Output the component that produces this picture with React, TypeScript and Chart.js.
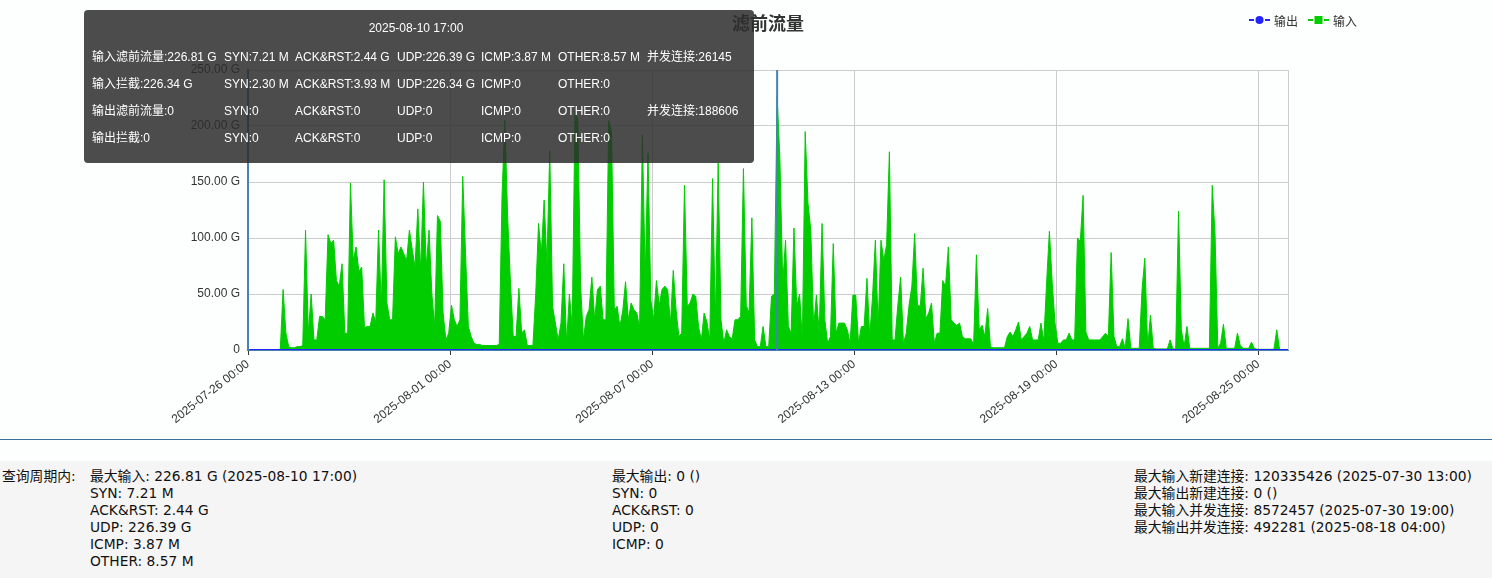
import React, { useEffect, useRef } from 'react';
import { Chart, registerables } from 'chart.js';

Chart.register(...registerables);

// ---- data ----
// one sample every 2 hours, the first at 2025-07-26 01:00 (hour 1 of the range)
const firstSampleHour = 1;
const sampleStepHours = 2;
const axisMaxHour = 741; // 2025-08-25 21:00
const tickStepHours = 144; // 6 days

const tickLabels = [
  '2025-07-26 00:00',
  '2025-08-01 00:00',
  '2025-08-07 00:00',
  '2025-08-13 00:00',
  '2025-08-19 00:00',
  '2025-08-25 00:00',
];

const yTickValues = [0, 50, 100, 150, 200, 250];

const seriesNames = ['输出', '输入'];

// 输入 (G), every 2 hours
const inputValues = [
  0, 0, 0, 0, 0, 0, 0, 0, 0, 0, 0, 0,
  54, 15, 3, 2, 2, 3, 3, 4, 107, 15, 50, 9,
  9, 30, 30, 27, 103, 95, 98, 62, 57, 77, 15, 15,
  149, 80, 92, 70, 74, 20, 21, 21, 33, 25, 107, 39,
  152, 42, 27, 27, 101, 86, 92, 86, 80, 107, 90, 74,
  126, 71, 150, 74, 107, 50, 21, 120, 115, 33, 9, 15,
  40, 27, 21, 27, 155, 86, 21, 12, 6, 5, 5, 4,
  4, 4, 4, 4, 4, 5, 138, 205, 119, 60, 12, 12,
  55, 15, 18, 4, 4, 4, 50, 113, 86, 134, 77, 178,
  39, 24, 9, 24, 77, 6, 50, 21, 214, 205, 57, 9,
  30, 36, 65, 27, 54, 57, 27, 27, 205, 195, 36, 39,
  21, 35, 61, 27, 42, 36, 33, 20, 192, 65, 176, 45,
  27, 62, 40, 54, 57, 54, 24, 71, 36, 12, 15, 147,
  39, 42, 50, 48, 21, 9, 33, 25, 9, 153, 27, 167,
  27, 6, 18, 12, 10, 27, 27, 30, 162, 40, 33, 118,
  9, 3, 3, 21, 3, 3, 48, 50, 226.81, 170, 60, 98,
  21, 15, 109, 39, 50, 9, 195, 131, 107, 21, 49, 15,
  113, 27, 6, 12, 95, 15, 24, 24, 24, 18, 6, 49,
  49, 6, 21, 21, 64, 12, 48, 98, 21, 98, 80, 94,
  177, 9, 9, 40, 65, 6, 15, 40, 57, 104, 40, 39,
  73, 28, 33, 42, 6, 15, 15, 62, 57, 92, 27, 24,
  22, 24, 12, 10, 10, 10, 5, 85, 18, 22, 12, 37,
  3, 2, 2, 2, 2, 2, 12, 16, 12, 18, 25, 9,
  12, 15, 21, 9, 9, 9, 24, 8, 60, 106, 60, 24,
  6, 6, 9, 9, 15, 9, 9, 100, 97, 138, 16, 9,
  9, 9, 9, 9, 12, 15, 12, 87, 12, 3, 3, 10,
  1.5, 28, 1.5, 1.5, 1.5, 1.5, 54, 82, 3, 31, 1.5, 1,
  1, 1, 1, 1, 9, 1, 1, 124, 18, 3, 21, 1.5,
  1.5, 1.5, 1.5, 1.5, 1.5, 1.5, 1.5, 147, 104, 1.5, 6, 23,
  1.5, 1.5, 1.5, 1.5, 15, 4, 1.5, 1.5, 1.5, 7, 1.5, 0.6,
  0.6, 0.6, 0.6, 0.6, 0.6, 0.6, 18, 0.5, 0.5, 0.5, 0.5,
];

// 输出 (G), every 2 hours
const outputValues = [
  0, 0, 0, 0, 0, 0, 0, 0, 0, 0, 0, 0,
  0, 0, 0, 0, 0, 0, 0, 0, 0, 0, 0, 0,
  0, 0, 0, 0, 0, 0, 0, 0, 0, 0, 0, 0,
  0, 0, 0, 0, 0, 0, 0, 0, 0, 0, 0, 0,
  0, 0, 0, 0, 0, 0, 0, 0, 0, 0, 0, 0,
  0, 0, 0, 0, 0, 0, 0, 0, 0, 0, 0, 0,
  0, 0, 0, 0, 0, 0, 0, 0, 0, 0, 0, 0,
  0, 0, 0, 0, 0, 0, 0, 0, 0, 0, 0, 0,
  0, 0, 0, 0, 0, 0, 0, 0, 0, 0, 0, 0,
  0, 0, 0, 0, 0, 0, 0, 0, 0, 0, 0, 0,
  0, 0, 0, 0, 0, 0, 0, 0, 0, 0, 0, 0,
  0, 0, 0, 0, 0, 0, 0, 0, 0, 0, 0, 0,
  0, 0, 0, 0, 0, 0, 0, 0, 0, 0, 0, 0,
  0, 0, 0, 0, 0, 0, 0, 0, 0, 0, 0, 0,
  0, 0, 0, 0, 0, 0, 0, 0, 0, 0, 0, 0,
  0, 0, 0, 0, 0, 0, 0, 0, 0, 0, 0, 0,
  0, 0, 0, 0, 0, 0, 0, 0, 0, 0, 0, 0,
  0, 0, 0, 0, 0, 0, 0, 0, 0, 0, 0, 0,
  0, 0, 0, 0, 0, 0, 0, 0, 0, 0, 0, 0,
  0, 0, 0, 0, 0, 0, 0, 0, 0, 0, 0, 0,
  0, 0, 0, 0, 0, 0, 0, 0, 0, 0, 0, 0,
  0, 0, 0, 0, 0, 0, 0, 0, 0, 0, 0, 0,
  0, 0, 0, 0, 0, 0, 0, 0, 0, 0, 0, 0,
  0, 0, 0, 0, 0, 0, 0, 0, 0, 0, 0, 0,
  0, 0, 0, 0, 0, 0, 0, 0, 0, 0, 0, 0,
  0, 0, 0, 0, 0, 0, 0, 0, 0, 0, 0, 0,
  0, 0, 0, 0, 0, 0, 0, 0, 0, 0, 0, 0,
  0, 0, 0, 0, 0, 0, 0, 0, 0, 0, 0, 0,
  0, 0, 0, 0, 0, 0, 0, 0, 0, 0, 0, 0,
  0, 0, 0, 0, 0, 0, 0, 0, 0, 0, 0, 0,
  0, 0, 0, 0, 0, 0, 0, 0, 0, 0, 0,
];

const pointerHour = 377; // 2025-08-10 17:00

const tooltipTitle = '2025-08-10 17:00';
const tooltipRows = [
  ['输入滤前流量:226.81 G', 'SYN:7.21 M', 'ACK&RST:2.44 G', 'UDP:226.39 G', 'ICMP:3.87 M', 'OTHER:8.57 M', '并发连接:26145'],
  ['输入拦截:226.34 G', 'SYN:2.30 M', 'ACK&RST:3.93 M', 'UDP:226.34 G', 'ICMP:0', 'OTHER:0', ''],
  ['输出滤前流量:0', 'SYN:0', 'ACK&RST:0', 'UDP:0', 'ICMP:0', 'OTHER:0', '并发连接:188606'],
  ['输出拦截:0', 'SYN:0', 'ACK&RST:0', 'UDP:0', 'ICMP:0', 'OTHER:0', ''],
];

const summaryLabel = '查询周期内:';
const summaryInput = [
  '最大输入: 226.81 G (2025-08-10 17:00)',
  'SYN: 7.21 M',
  'ACK&RST: 2.44 G',
  'UDP: 226.39 G',
  'ICMP: 3.87 M',
  'OTHER: 8.57 M',
];
const summaryOutput = ['最大输出: 0 ()', 'SYN: 0', 'ACK&RST: 0', 'UDP: 0', 'ICMP: 0'];
const summaryConn = [
  '最大输入新建连接: 120335426 (2025-07-30 13:00)',
  '最大输出新建连接: 0 ()',
  '最大输入并发连接: 8572457 (2025-07-30 19:00)',
  '最大输出并发连接: 492281 (2025-08-18 04:00)',
];

// ---- style ----
const GREEN = '#00cc00';
const BLUE = '#2424ff';
const STEEL = '#4682b4';
const FONT = "'Liberation Sans', Arial, 'Noto Sans CJK SC', sans-serif";
const FOOT_FONT = "'DejaVu Sans', 'Noto Sans CJK SC', sans-serif";

const tooltipCols = [8, 140, 211, 313, 397, 474, 563];
const tooltipRowY = [45, 72, 99, 126];

const frame = {
  id: 'frame',
  beforeDatasetsDraw(chart: any) {
    const { ctx, chartArea: a } = chart;
    ctx.save();
    ctx.strokeStyle = '#cccccc';
    ctx.lineWidth = 1;
    ctx.beginPath();
    ctx.moveTo(Math.round(a.right) + 0.5, a.top);
    ctx.lineTo(Math.round(a.right) + 0.5, a.bottom);
    ctx.stroke();
    ctx.restore();
  },
  afterDatasetsDraw(chart: any) {
    const { ctx, chartArea: a, scales } = chart;
    const x = scales.x.getPixelForValue(pointerHour);
    ctx.save();
    ctx.strokeStyle = STEEL;
    ctx.lineWidth = 2;
    ctx.beginPath();
    ctx.moveTo(x, a.top);
    ctx.lineTo(x, a.bottom);
    ctx.stroke();
    ctx.restore();
  },
};

export default function App() {
  const canvasRef = useRef<HTMLCanvasElement>(null);

  useEffect(() => {
    document.body.style.margin = '0';
    const hourOf = (i: number) => firstSampleHour + i * sampleStepHours;
    const chart = new Chart(canvasRef.current as HTMLCanvasElement, {
      type: 'line',
      data: {
        datasets: [
          {
            label: seriesNames[0],
            data: outputValues.map((v, i) => ({ x: hourOf(i), y: v })),
            borderColor: BLUE,
            backgroundColor: BLUE,
            borderWidth: 2,
            pointRadius: 0,
            fill: false,
          },
          {
            label: seriesNames[1],
            data: inputValues.map((v, i) => ({ x: hourOf(i), y: v })),
            borderColor: GREEN,
            backgroundColor: GREEN,
            borderWidth: 1,
            pointRadius: 0,
            fill: 'origin',
          },
        ],
      },
      options: {
        animation: false,
        responsive: false,
        maintainAspectRatio: false,
        layout: { padding: { top: 70, right: 204, left: 0, bottom: 0 } },
        plugins: {
          legend: { display: false },
          tooltip: { enabled: false },
          title: { display: false },
        },
        font: { family: FONT, size: 12 },
        scales: {
          x: {
            type: 'linear',
            min: 0,
            max: axisMaxHour,
            afterBuildTicks: (s: any) => {
              s.ticks = tickLabels.map((_, i) => ({ value: i * tickStepHours }));
            },
            afterFit: (s: any) => {
              s.height = 82;
            },
            ticks: {
              autoSkip: false,
              minRotation: 38,
              maxRotation: 38,
              color: '#333',
              padding: 2,
              font: { family: FONT, size: 12 },
              callback: (v: any) => tickLabels[Math.round(Number(v) / tickStepHours)] ?? '',
            },
            grid: { color: '#cccccc', tickColor: '#333', tickLength: 5 },
            border: { color: STEEL, width: 2 },
          },
          y: {
            min: 0,
            max: 250,
            afterBuildTicks: (s: any) => {
              s.ticks = yTickValues.map((v) => ({ value: v }));
            },
            afterFit: (s: any) => {
              s.width = 248;
            },
            ticks: {
              color: '#333',
              padding: 8,
              font: { family: FONT, size: 12 },
              callback: (v: any) => (Number(v) === 0 ? '0' : Number(v).toFixed(2) + ' G'),
            },
            grid: { color: '#cccccc', drawTicks: false },
            border: { color: STEEL, width: 2 },
          },
        },
      } as any,
      plugins: [frame],
    });
    return () => chart.destroy();
  }, []);

  const abs = (s: React.CSSProperties): React.CSSProperties => ({ position: 'absolute', ...s });

  return (
    <div style={{ position: 'relative', width: 1492, height: 578, background: '#fdfefe', fontFamily: FONT, overflow: 'hidden' }}>
      <canvas ref={canvasRef} width={1492} height={432} style={{ display: 'block', position: 'absolute', left: 0, top: 0 }} />

      <div style={abs({ left: 668, top: 10, width: 200, textAlign: 'center', fontSize: 18, fontWeight: 'bold', color: '#333', lineHeight: '24px', fontFamily: "'Noto Sans CJK SC', sans-serif" })}>
        滤前流量
      </div>

      <div style={abs({ left: 1249, top: 12, height: 16, display: 'flex', alignItems: 'center', fontSize: 12, color: '#333', fontFamily: "'Noto Sans CJK SC', sans-serif" })}>
        <svg width={21} height={10} style={{ display: 'block' }}>
          <line x1={0} y1={5} x2={21} y2={5} stroke={BLUE} strokeWidth={2} strokeDasharray="5 3" />
          <circle cx={10.5} cy={5} r={4} fill={BLUE} />
        </svg>
        <span style={{ marginLeft: 4 }}>{seriesNames[0]}</span>
        <svg width={21} height={10} style={{ display: 'block', marginLeft: 10 }}>
          <line x1={0} y1={5} x2={21} y2={5} stroke={GREEN} strokeWidth={2} strokeDasharray="5 3" />
          <rect x={6.5} y={1} width={8} height={8} fill={GREEN} />
        </svg>
        <span style={{ marginLeft: 4 }}>{seriesNames[1]}</span>
      </div>

      <div style={abs({ left: 84, top: 10, width: 670, height: 153, background: 'rgba(45,45,45,0.85)', borderRadius: 4, color: '#fff', fontSize: 12 })}>
        <div style={abs({ left: 0, top: 11, width: 664, textAlign: 'center', lineHeight: '14px' })}>{tooltipTitle}</div>
        {tooltipRows.map((row, r) =>
          row.map((cell, c) =>
            cell ? (
              <div key={r + '-' + c} style={abs({ left: tooltipCols[c], top: tooltipRowY[r] - 7 + 2, lineHeight: '14px', whiteSpace: 'nowrap' })}>
                {cell}
              </div>
            ) : null
          )
        )}
      </div>

      <div style={abs({ left: 0, top: 439, width: 1492, height: 1, background: '#3d6f9f' })} />

      <div style={abs({ left: 0, top: 461, width: 1492, height: 117, background: '#f6f5f5', fontSize: 13.8, color: '#111', lineHeight: '17px', fontFamily: FOOT_FONT })}>
        <div style={abs({ left: 2, top: 7 })}>{summaryLabel}</div>
        <div style={abs({ left: 90, top: 7, whiteSpace: 'nowrap' })}>
          {summaryInput.map((t, i) => (
            <div key={i}>{t}</div>
          ))}
        </div>
        <div style={abs({ left: 612, top: 7, whiteSpace: 'nowrap' })}>
          {summaryOutput.map((t, i) => (
            <div key={i}>{t}</div>
          ))}
        </div>
        <div style={abs({ left: 1134, top: 7, whiteSpace: 'nowrap' })}>
          {summaryConn.map((t, i) => (
            <div key={i}>{t}</div>
          ))}
        </div>
      </div>
    </div>
  );
}
